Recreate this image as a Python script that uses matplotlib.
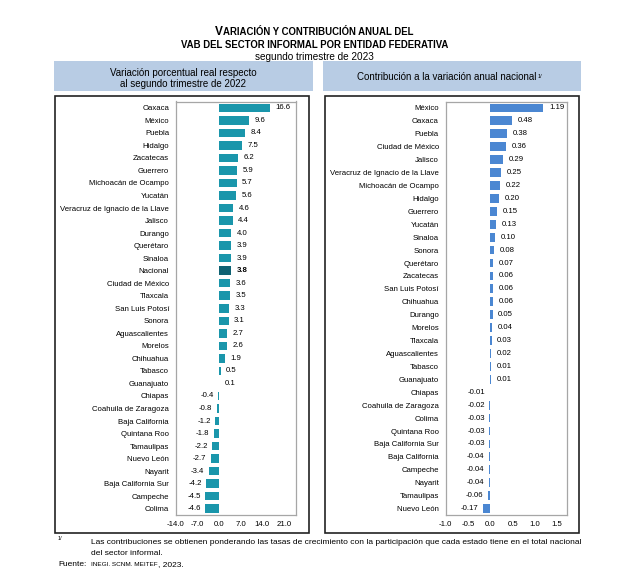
import matplotlib
matplotlib.use("Agg")
import matplotlib.pyplot as plt
from matplotlib.patches import Rectangle

plt.rcParams['font.family'] = ['Liberation Sans', 'DejaVu Sans']

# ---------------- data ----------------
var_states = ["Oaxaca", "México", "Puebla", "Hidalgo", "Zacatecas", "Guerrero",
              "Michoacán de Ocampo", "Yucatán", "Veracruz de Ignacio de la Llave",
              "Jalisco", "Durango", "Querétaro", "Sinaloa", "Nacional",
              "Ciudad de México", "Tlaxcala", "San Luis Potosí", "Sonora",
              "Aguascalientes", "Morelos", "Chihuahua", "Tabasco", "Guanajuato",
              "Chiapas", "Coahuila de Zaragoza", "Baja California", "Quintana Roo",
              "Tamaulipas", "Nuevo León", "Nayarit", "Baja California Sur",
              "Campeche", "Colima"]
var_values = [16.6, 9.6, 8.4, 7.5, 6.2, 5.9, 5.7, 5.6, 4.6, 4.4, 4.0, 3.9, 3.9, 3.8,
              3.6, 3.5, 3.3, 3.1, 2.7, 2.6, 1.9, 0.5, 0.1, -0.4, -0.8, -1.2, -1.8,
              -2.2, -2.7, -3.4, -4.2, -4.5, -4.6]

con_states = ["México", "Oaxaca", "Puebla", "Ciudad de México", "Jalisco",
              "Veracruz de Ignacio de la Llave", "Michoacán de Ocampo", "Hidalgo",
              "Guerrero", "Yucatán", "Sinaloa", "Sonora", "Querétaro", "Zacatecas",
              "San Luis Potosí", "Chihuahua", "Durango", "Morelos", "Tlaxcala",
              "Aguascalientes", "Tabasco", "Guanajuato", "Chiapas",
              "Coahuila de Zaragoza", "Colima", "Quintana Roo", "Baja California Sur",
              "Baja California", "Campeche", "Nayarit", "Tamaulipas", "Nuevo León"]
con_values = [1.19, 0.48, 0.38, 0.36, 0.29, 0.25, 0.22, 0.20, 0.15, 0.13, 0.10, 0.08,
              0.07, 0.06, 0.06, 0.06, 0.05, 0.04, 0.03, 0.02, 0.01, 0.01, -0.01, -0.02,
              -0.03, -0.03, -0.03, -0.04, -0.04, -0.04, -0.06, -0.17]

var_ticks = [-14.0, -7.0, 0.0, 7.0, 14.0, 21.0]
con_ticks = [-1.0, -0.5, 0.0, 0.5, 1.0, 1.5]

# ---------------- style ----------------
W, H = 629, 580
TEAL = "#1a96ab"
TEAL_DARK = "#0f6273"
BLUE = "#4b87d2"
HEADER = "#b8cce4"
GRID = "#a6a6a6"
FS = 5.6

fig = plt.figure(figsize=(W / 100, H / 100), dpi=100)


def fx(px):
    return px / W


def fy(py):
    return 1 - py / H


def box(x0, y0, x1, y1, **kw):
    fig.patches.append(Rectangle((fx(x0), fy(y1)), fx(x1 - x0), (y1 - y0) / H,
                                 transform=fig.transFigure, **kw))


# header boxes and frames
box(54, 61, 312.5, 91, facecolor=HEADER, edgecolor="none", zorder=0)
box(322.5, 61, 581, 91, facecolor=HEADER, edgecolor="none", zorder=0)
box(55.3, 95.7, 309.3, 533, facecolor="none", edgecolor="#222222", linewidth=1.2, zorder=0)
box(324.7, 95.7, 579, 533, facecolor="none", edgecolor="#222222", linewidth=1.2, zorder=0)

# title with small caps imitation
fig.canvas.draw()
r = fig.canvas.get_renderer()
parts = [("V", 8.6), ("ARIACIÓN Y CONTRIBUCIÓN ANUAL DEL", 6.9)]
tmp = []
total = 0
for s, size in parts:
    tt = fig.text(0, 0, s, fontsize=size, fontweight="bold")
    total += tt.get_window_extent(r).width
    tmp.append(tt)
for tt in tmp:
    tt.remove()
xpos = (W - total) / 2
for s, size in parts:
    tt = fig.text(fx(xpos), fy(35), s, fontsize=size, fontweight="bold", va="baseline", ha="left")
    xpos += tt.get_window_extent(r).width
fig.text(0.5, fy(48), "VAB DEL SECTOR INFORMAL POR ENTIDAD FEDERATIVA", fontsize=6.9,
         fontweight="bold", ha="center", va="baseline")
fig.text(0.5, fy(60), "segundo trimestre de 2023", fontsize=7.2, ha="center", va="baseline")

# header texts
fig.text(fx(183), fy(72.5), "Variación porcentual real respecto", fontsize=7.0,
         ha="center", va="center")
fig.text(fx(183), fy(84), "al segundo trimestre de 2022", fontsize=7.0,
         ha="center", va="center")
ht = fig.text(fx(447), fy(77.5), "Contribución a la variación anual nacional", fontsize=7.0,
              ha="center", va="center")
fig.canvas.draw()
bb = ht.get_window_extent(r)
fig.text(bb.x1 / W + 0.001, bb.y1 / H - 0.002, "1/", fontsize=4.0, ha="left", va="top")


def make_panel(rect, cats, vals, colors, ticks, xlim, fmt, bold_idx=None):
    ax = fig.add_axes(rect)
    n = len(cats)
    y = list(range(n))
    bars = ax.barh(y, vals, height=0.68, color=colors, zorder=2)
    ax.set_ylim(n - 0.5, -0.5)
    ax.set_xlim(*xlim)
    ax.set_yticks(y)
    ax.set_yticklabels(cats, fontsize=FS)
    ax.tick_params(axis="y", length=0, pad=5)
    ax.set_xticks(ticks)
    ax.set_xticklabels([f"{t:.1f}" for t in ticks], fontsize=FS)
    ax.tick_params(axis="x", length=0, pad=4)
    for sp in ax.spines.values():
        sp.set_color(GRID)
        sp.set_linewidth(0.9)
    for i, (b, v) in enumerate(zip(bars, vals)):
        w = "bold" if bold_idx is not None and i == bold_idx else "normal"
        ax.annotate(fmt.format(v), xy=(v, i), xytext=(4 if v >= 0 else -3, 0),
                    textcoords="offset points", ha="left" if v >= 0 else "right",
                    va="center", fontsize=FS, fontweight=w, zorder=3)
    return ax


nat = var_states.index("Nacional")
var_colors = [TEAL_DARK if s == "Nacional" else TEAL for s in var_states]
make_panel([fx(176), fy(515), fx(296 - 176), (515 - 101.5) / H], var_states, var_values,
           var_colors, var_ticks, (-14, 25), "{:.1f}", bold_idx=nat)
make_panel([fx(445.7), fy(515), fx(567 - 445.7), (515 - 101.5) / H], con_states, con_values,
           [BLUE] * len(con_values), con_ticks, (-1.0, 1.72), "{:.2f}")

# footnotes
fig.text(fx(58), fy(540), "1/", fontsize=4.0, ha="left", va="baseline")
fig.text(fx(91), fy(544), "Las contribuciones se obtienen ponderando las tasas de crecimiento con la "
         "participación que cada estado tiene en el total nacional", fontsize=6.0,
         ha="left", va="baseline")
fig.text(fx(91), fy(555), "del sector informal.", fontsize=6.0, ha="left", va="baseline")
fig.text(fx(58), fy(566), "Fuente:", fontsize=6.0, ha="left", va="baseline")
fs1 = fig.text(fx(91), fy(566), "INEGI. SCNM. MEITEF", fontsize=4.6, ha="left", va="baseline")
fig.canvas.draw()
b1 = fs1.get_window_extent(r)
fig.text(b1.x1 / W, fy(566), ", 2023.", fontsize=6.0, ha="left", va="baseline")

fig.savefig("out.png", dpi=100)
